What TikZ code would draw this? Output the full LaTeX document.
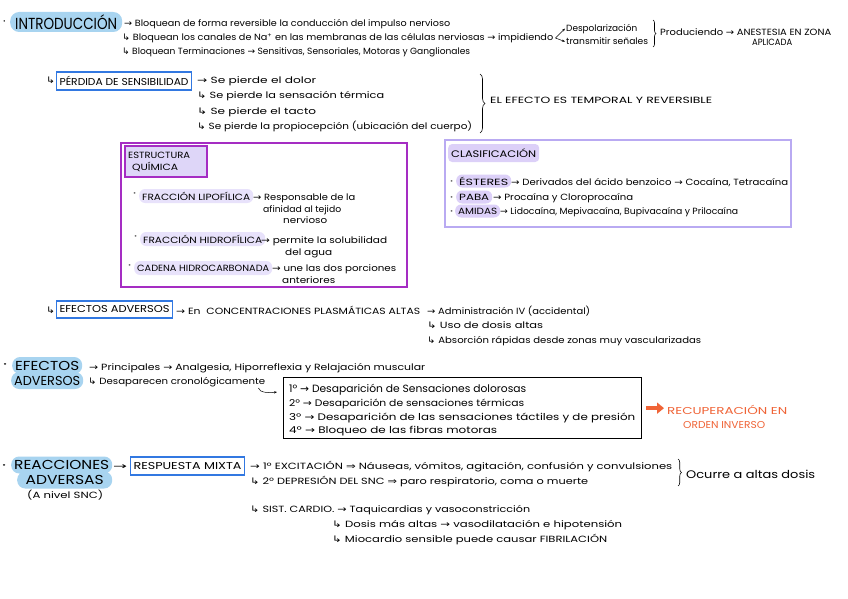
\documentclass[tikz,border=0pt]{standalone}
\usepackage{fontspec}
\setmainfont{Poppins}
\newfontfamily\symf{DejaVu Sans}
\usepackage{graphicx}
\usetikzlibrary{arrows.meta,decorations.pathreplacing}

\definecolor{hlblue}{RGB}{168,212,240}
\definecolor{boxblue}{RGB}{50,120,225}
\definecolor{purp}{RGB}{165,45,195}
\definecolor{lav}{RGB}{222,214,248}
\definecolor{pill}{RGB}{232,226,251}
\definecolor{pilltwo}{RGB}{220,208,248}
\definecolor{clasb}{RGB}{185,170,242}
\definecolor{orng}{RGB}{240,100,55}

\newcommand{\ra}{{\symf →}}
\newcommand{\da}{{\symf ↳}}
\newcommand{\Ra}{{\symf ⇒}}
\newcommand{\tx}[5]{\node[txt] (#1) at (#2,#3) {\resizebox{#4pt}{\height}{#5}};}

\tikzset{
  txt/.style={anchor=base west,inner sep=0pt,font=\fontsize{9}{10}\selectfont},
  bbox/.style={draw=boxblue,line width=1.1pt,inner xsep=3pt,inner ysep=0pt,minimum height=18pt,anchor=west,font=\fontsize{10}{12}\selectfont},
  pillst/.style={anchor=west,fill=pill,rounded corners=6pt,inner xsep=3pt,inner ysep=0pt,minimum height=14pt,font=\fontsize{9}{10}\selectfont},
  hl/.style={anchor=west,fill=hlblue,rounded corners=8pt,inner xsep=3pt,inner ysep=0pt,minimum height=17pt,font=\fontsize{13}{15}\selectfont},
  brc/.style={decorate,decoration={brace,amplitude=#1},line width=0.6pt},
  arr/.style={-{Stealth[length=3pt]},line width=0.5pt}
}

\begin{document}
\begin{tikzpicture}[x=1pt,y=-1pt]
\fill[white] (0,0) rectangle (848,599);
\useasboundingbox (0,0) rectangle (848,599);

% ---------- INTRODUCCION
\node[txt] (b0) at (3,26) {\fontsize{12}{12}\selectfont ·};
\node[hl,minimum height=20pt,rounded corners=9pt,inner xsep=5pt] (intro) at (10,22) {\resizebox{102pt}{\height}{\fontsize{16}{18}\selectfont INTRODUCCIÓN}};
\tx{l1}{124}{27}{326}{\ra{} Bloquean de forma reversible la conducción del impulso nervioso}
\tx{l2}{122}{41}{431}{\da{} Bloquean los canales de Na\textsuperscript{+} en las membranas de las células nerviosas \ra{} impidiendo}
\tx{desp}{566}{32}{71}{Despolarización}
\tx{trans}{566}{45}{82}{transmitir señales}
\coordinate (br) at ([xshift=2pt,yshift=3pt]l2.base east);
\draw[arr] (br) -- ([xshift=-1pt,yshift=1pt]desp.west);
\draw[arr] (br) -- ([xshift=-1pt]trans.west);
\draw[brc=3pt] (653,20) -- (653,47);
\tx{prod}{660}{36}{171}{Produciendo \ra{} ANESTESIA EN ZONA}
\tx{apl}{752}{46}{40}{APLICADA}
\tx{l3}{122}{55}{348}{\da{} Bloquean Terminaciones \ra{} Sensitivas, Sensoriales, Motoras y Ganglionales}

% ---------- PERDIDA
\tx{ar1}{46}{84}{9}{\da}
\node[bbox] (perd) at (56,81) {\resizebox{129pt}{\height}{PÉRDIDA DE SENSIBILIDAD}};
\tx{p1}{197}{84}{119}{\ra{} Se pierde el dolor}
\tx{p2}{197}{99}{187}{\da{} Se pierde la sensación térmica}
\tx{p3}{197}{114}{119}{\da{} Se pierde el tacto}
\tx{p4}{197}{129}{275}{\da{} Se pierde la propiocepción (ubicación del cuerpo)}
\draw[brc=5pt] (480,74) -- (480,133);
\tx{efec}{490}{104}{222}{EL EFECTO ES TEMPORAL Y REVERSIBLE}

% ---------- ESTRUCTURA QUIMICA
\node[draw=purp,line width=1.8pt,minimum width=286pt,minimum height=144pt,anchor=north west,inner sep=0pt] (estbox) at (120,142) {};
\node[draw=purp,fill=lav,line width=1.5pt,minimum width=82pt,minimum height=31pt,anchor=north west,inner sep=0pt] (esttit) at (124,145) {};
\tx{e1}{128}{158}{62}{ESTRUCTURA}
\tx{e2}{132}{171}{46}{QUÍMICA}
\tx{bf1}{133}{196}{3}{·}
\node[pillst] (fl) at (139,196) {\resizebox{108pt}{\height}{FRACCIÓN LIPOFÍLICA}};
\tx{fl1}{253}{200}{102}{\ra{} Responsable de la}
\tx{fl2}{263}{212}{78}{afinidad al tejido}
\tx{fl3}{283}{223}{44}{nervioso}
\tx{bf2}{134}{239}{3}{·}
\node[pillst] (fh) at (140,239) {\resizebox{119pt}{\height}{FRACCIÓN HIDROFÍLICA}};
\tx{fh1}{261}{243}{126}{\ra{} permite la solubilidad}
\tx{fh2}{285}{255}{47}{del agua}
\tx{bf3}{128}{268}{3}{·}
\node[pillst] (ch) at (134,268) {\resizebox{132pt}{\height}{CADENA HIDROCARBONADA}};
\tx{ch1}{272}{271}{124}{\ra{} une las dos porciones}
\tx{ch2}{282}{283}{53}{anteriores}

% ---------- CLASIFICACION
\node[draw=clasb,line width=1.5pt,minimum width=346pt,minimum height=87pt,anchor=north west,inner sep=0pt] (clasbox) at (444,139) {};
\node[pillst,fill=pilltwo,minimum height=18pt,rounded corners=4pt] (clas) at (448,153) {\resizebox{85pt}{\height}{\fontsize{9.5}{11}\selectfont CLASIFICACIÓN}};
\tx{bc1}{450}{184}{3}{·}
\node[pillst,fill=pilltwo,minimum height=13pt] (est) at (456,181) {\resizebox{49pt}{\height}{ÉSTERES}};
\tx{est1}{511}{185}{277}{\ra{} Derivados del ácido benzoico \ra{} Cocaína, Tetracaína}
\tx{bc2}{450}{200}{3}{·}
\node[pillst,fill=pilltwo,minimum height=13pt] (paba) at (456,197) {\resizebox{30pt}{\height}{PABA}};
\tx{paba1}{493}{200}{140}{\ra{} Procaína y Cloroprocaína}
\tx{bc3}{450}{214}{3}{·}
\node[pillst,fill=pilltwo,minimum height=13pt] (ami) at (455,211) {\resizebox{39pt}{\height}{AMIDAS}};
\tx{ami1}{500}{214}{238}{\ra{} Lidocaína, Mepivacaína, Bupivacaína y Prilocaína}

% ---------- EFECTOS ADVERSOS (box)
\tx{ar2}{46}{313}{9}{\da}
\node[bbox,minimum height=17pt] (efad) at (56,309.5) {\resizebox{110pt}{\height}{EFECTOS ADVERSOS}};
\tx{conc}{176}{314}{244}{\ra{} En\ \ CONCENTRACIONES PLASMÁTICAS ALTAS}
\tx{adm}{427}{314}{163}{\ra{} Administración IV (accidental)}
\tx{uso}{427}{328}{116}{\da{} Uso de dosis altas}
\tx{abs}{427}{343}{274}{\da{} Absorción rápidas desde zonas muy vascularizadas}

% ---------- EFECTOS ADVERSOS (highlight)
\tx{b5}{3}{368}{4}{\fontsize{12}{12}\selectfont ·}
\node[hl] (ef1) at (12,365.5) {\resizebox{64pt}{\height}{EFECTOS}};
\node[hl] (ef2) at (11,380.5) {\resizebox{66pt}{\height}{ADVERSOS}};
\tx{prin}{89}{370}{336}{\ra{} Principales \ra{} Analgesia, Hiporreflexia y Relajación muscular}
\tx{desap}{88}{384}{177}{\da{} Desaparecen cronológicamente}
\node[draw=black,line width=1.3pt,minimum width=358pt,minimum height=61pt,anchor=north west,inner sep=0pt] (seqbox) at (283,377) {};
\coordinate (ca) at ([xshift=-7pt,yshift=-4pt]desap.base east);
\coordinate (cb) at ([xshift=-6pt,yshift=-15pt]seqbox.north west);
\draw[arr] (ca) .. controls +(1,5) and +(-7,1) .. (cb);
\tx{s1}{289}{392}{237}{\fontsize{10.5}{12}\selectfont 1º \ra{} Desaparición de Sensaciones dolorosas}
\tx{s2}{289}{406}{235}{\fontsize{9.5}{11}\selectfont 2º \ra{} Desaparición de sensaciones térmicas}
\tx{s3}{289}{420}{346}{\fontsize{9.5}{11}\selectfont 3º \ra{} Desaparición de las sensaciones táctiles y de presión}
\tx{s4}{289}{433}{208}{\fontsize{9.5}{11}\selectfont 4º \ra{} Bloqueo de las fibras motoras}
\tx{rec1}{667}{414}{120}{\fontsize{10}{11}\selectfont\color{orng} RECUPERACIÓN EN}
\tx{rec2}{683}{428}{82}{\fontsize{10}{11}\selectfont\color{orng} ORDEN INVERSO}
\draw[orng,line width=3.5pt,-{Triangle[length=7pt,width=11pt]}] ([xshift=4pt]seqbox.east) -- ([xshift=-3pt]seqbox.east -| rec1.west);

% ---------- REACCIONES ADVERSAS
\tx{b6}{2}{469}{4}{\fontsize{12}{12}\selectfont ·}
\node[hl] (re1) at (11,465) {\resizebox{95pt}{\height}{REACCIONES}};
\node[hl,minimum width=95pt] (re2) at (17,480) {\resizebox{78pt}{\height}{ADVERSAS}};
\tx{niv}{27}{498}{76}{(A nivel SNC)}
\tx{arr0}{113}{469}{14}{\ra}
\node[bbox] (resp) at (130,466) {\resizebox{108pt}{\height}{RESPUESTA MIXTA}};
\tx{exc}{250}{469}{422}{\ra{} 1º EXCITACIÓN \Ra{} Náuseas, vómitos, agitación, confusión y convulsiones}
\tx{dep}{250}{484}{338}{\da{} 2º DEPRESIÓN DEL SNC \Ra{} paro respiratorio, coma o muerte}
\draw[brc=3.5pt] (678,459) -- (678,486);
\tx{ocu}{686}{478}{129}{\fontsize{11}{13}\selectfont Ocurre a altas dosis}
\tx{car}{250}{512}{280}{\da{} SIST. CARDIO. \ra{} Taquicardias y vasoconstricción}
\tx{dos}{332}{527}{290}{\da{} Dosis más altas \ra{} vasodilatación e hipotensión}
\tx{mio}{332}{542}{275}{\da{} Miocardio sensible puede causar FIBRILACIÓN}
\end{tikzpicture}
\end{document}
